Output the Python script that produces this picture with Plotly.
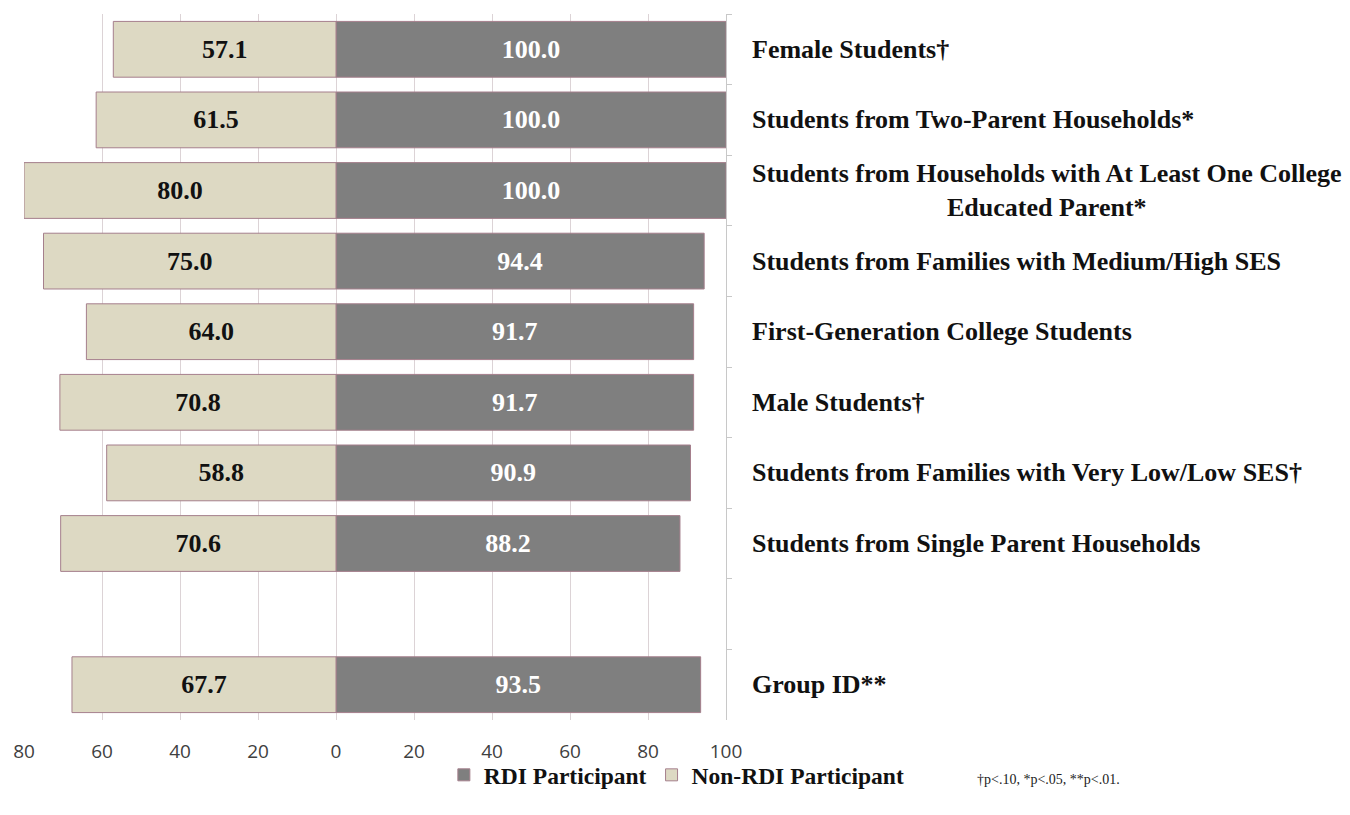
import plotly.graph_objects as go

# Groups, listed top to bottom (blank row separates the overall group)
categories = [
    "Female Students†",
    "Students from Two-Parent Households*",
    "Students from Households with At Least One College<br>Educated Parent*",
    "Students from Families with Medium/High SES",
    "First-Generation College Students",
    "Male Students†",
    "Students from Families with Very Low/Low SES†",
    "Students from Single Parent Households",
    " ",
    "Group ID**",
]
rdi_values = [100.0, 100.0, 100.0, 94.4, 91.7, 91.7, 90.9, 88.2, None, 93.5]
non_rdi_values = [57.1, 61.5, 80.0, 75.0, 64.0, 70.8, 58.8, 70.6, None, 67.7]

x_tickvals = [-80, -60, -40, -20, 0, 20, 40, 60, 80, 100]
x_ticktext = ["80", "60", "40", "20", "0", "20", "40", "60", "80", "100"]

SERIF = "Liberation Serif, Times New Roman, serif"
GRAY = "#7f7f7f"
BEIGE = "#ddd9c3"
EDGE = "#a57f8c"


def fmt(v):
    return "" if v is None else f"<b>{v:.1f}</b>"


fig = go.Figure()

fig.add_trace(go.Bar(
    name="RDI Participant",
    y=categories,
    x=rdi_values,
    orientation="h",
    marker=dict(color=GRAY, line=dict(color=EDGE, width=1)),
    text=[fmt(v) for v in rdi_values],
    textposition="inside",
    insidetextanchor="middle",
    textangle=0,
    constraintext="none",
    insidetextfont=dict(family=SERIF, size=26, color="white"),
    hoverinfo="skip",
))

fig.add_trace(go.Bar(
    name="Non-RDI Participant",
    y=categories,
    x=[None if v is None else -v for v in non_rdi_values],
    orientation="h",
    marker=dict(color=BEIGE, line=dict(color=EDGE, width=1)),
    text=[fmt(v) for v in non_rdi_values],
    textposition="inside",
    insidetextanchor="middle",
    textangle=0,
    constraintext="none",
    insidetextfont=dict(family=SERIF, size=26, color="#111111"),
    hoverinfo="skip",
))

# Group names to the right of the axis
for cat in categories:
    if cat.strip():
        fig.add_annotation(
            x=1.034, xref="paper", y=cat, yref="y",
            text=f"<b>{cat}</b>", showarrow=False,
            xanchor="left", yanchor="middle", align="center",
            font=dict(family=SERIF, size=26, color="#111111"),
        )

fig.add_annotation(
    x=1.355, xref="paper", y=-0.084, yref="paper",
    text="†p<.10, *p<.05, **p<.01.", showarrow=False,
    xanchor="left", yanchor="middle",
    font=dict(family=SERIF, size=14, color="#222222"),
)

fig.update_layout(
    width=1350, height=815,
    margin=dict(l=24, r=624, t=14, b=95),
    paper_bgcolor="white", plot_bgcolor="white",
    barmode="relative",
    bargap=0.21,
    showlegend=True,
    legend=dict(
        orientation="h", x=0.93, xanchor="center", y=-0.078, yanchor="middle",
        font=dict(family=SERIF, size=23.5, color="#111111", weight="bold"),
        itemwidth=30, traceorder="normal",
        bgcolor="rgba(0,0,0,0)",
    ),
    xaxis=dict(
        range=[-80, 100],
        tickvals=x_tickvals, ticktext=x_ticktext,
        showgrid=True, gridcolor="#dcd3d6", gridwidth=1,
        zeroline=False, showline=False, ticks="",
        tickfont=dict(family="Open Sans, sans-serif", size=19, color="#404040"),
        ticklabelstandoff=18,
    ),
    yaxis=dict(
        type="category",
        categoryorder="array", categoryarray=categories,
        autorange="reversed",
        side="right",
        showticklabels=False,
        showgrid=False,
        showline=True, linecolor="#c8c8c8", linewidth=1,
        ticks="outside", tickson="boundaries", ticklen=5, tickcolor="#c8c8c8",
    ),
)

fig.write_html("out.html")
